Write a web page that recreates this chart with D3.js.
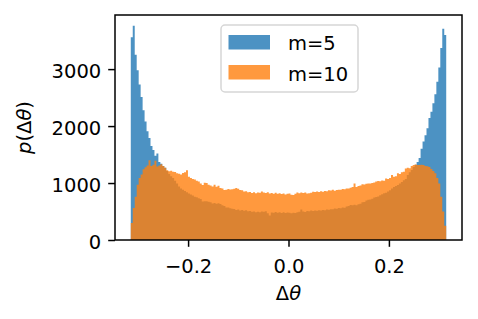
<!DOCTYPE html>
<html>
<head>
<meta charset="utf-8">
<script src="https://cdn.jsdelivr.net/npm/d3@7"></script>
<style>
  body { margin: 0; background: #fff; }
  text { font-family: "DejaVu Sans", sans-serif; }
</style>
</head>
<body>
<div id="chart"></div>
<script>
// histogram range and bin heights
var binRange = [-0.31416, 0.31416];

var m5 = [
  3560, 3760, 3250, 2980, 2730, 2510, 2280, 2080, 1910, 1790,
  1650, 1580, 1480, 1520, 1370, 1340, 1300, 1270, 1210, 1160,
  1120, 1090, 1040, 990, 940, 905, 880, 860, 840, 815,
  800, 780, 760, 750, 735, 720, 675, 680, 680, 670,
  662, 640, 648, 636, 645, 630, 612, 596, 570, 572,
  556, 548, 544, 528, 534, 520, 526, 512, 522, 504,
  508, 494, 500, 488, 495, 486, 500, 494, 506, 468,
  432, 484, 480, 490, 478, 488, 476, 485, 472, 482,
  478, 468, 480, 472, 486, 498, 536, 502, 490, 508,
  506, 518, 508, 520, 512, 524, 516, 528, 522, 534,
  530, 542, 538, 552, 548, 560, 556, 570, 568, 588,
  596, 616, 610, 618, 612, 628, 636, 664, 668, 694,
  705, 713, 725, 745, 755, 765, 785, 805, 819, 830,
  850, 875, 905, 930, 950, 965, 990, 1020, 1050, 1070,
  1140, 1190, 1230, 1280, 1320, 1370, 1440, 1600, 1730, 1840,
  1960, 2140, 2250, 2400, 2560, 2780, 3030, 3370, 3710, 3600
];

var m10 = [
  300, 560, 760, 970, 1090, 1150, 1240, 1275, 1310, 1400,
  1300, 1320, 1390, 1290, 1310, 1330, 1300, 1270, 1225, 1205,
  1215, 1200, 1195, 1170, 1165, 1150, 1175, 1190, 1225, 1110,
  1090, 1070, 1060, 1040, 1025, 990, 965, 1005, 1000, 970,
  958, 940, 968, 936, 952, 915, 905, 878, 884, 896,
  886, 892, 898, 912, 900, 876, 874, 850, 856, 838,
  842, 826, 840, 820, 836, 828, 850, 836, 824, 840,
  818, 824, 812, 828, 810, 822, 806, 816, 800, 812,
  818, 796, 788, 810, 834, 820, 832, 826, 836, 818,
  822, 828, 846, 842, 852, 844, 856, 846, 862, 856,
  874, 868, 880, 866, 878, 884, 880, 894, 890, 904,
  902, 916, 930, 992, 930, 950, 956, 978, 976, 986,
  990, 994, 1000, 1010, 1025, 1035, 1030, 1045, 1040, 1080,
  1070, 1090, 1140, 1110, 1120, 1170, 1160, 1190, 1200, 1257,
  1270, 1260, 1300, 1316, 1325, 1318, 1316, 1322, 1316, 1300,
  1295, 1280, 1245, 1210, 1170, 1090, 990, 760, 500, 250
];

var seriesNames = ["m=5", "m=10"];
var xTicks = [-0.2, 0.0, 0.2];
var xTickLabels = ["\u22120.2", "0.0", "0.2"];
var yTicks = [0, 1000, 2000, 3000];

var W = 478, H = 319;
var margin = {top: 15, right: 16, bottom: 79, left: 115},
    width = W - margin.left - margin.right,
    height = H - margin.top - margin.bottom;

var svg = d3.select("#chart")
    .append("svg")
    .attr("width", W)
    .attr("height", H)
    .append("g")
    .attr("transform", "translate(" + margin.left + "," + margin.top + ")");

var x = d3.scaleLinear()
    .domain([-0.3456, 0.3456])
    .range([0, width]);

var y = d3.scaleLinear()
    .domain([0, 3950])
    .range([height, 0]);

function drawHist(values, color) {
    var n = values.length;
    var step = (binRange[1] - binRange[0]) / n;
    var pts = values.map(function (v, i) { return [binRange[0] + i * step, v]; });
    pts.push([binRange[1], values[n - 1]]);

    svg.append("path")
        .datum(pts)
        .attr("fill", color)
        .attr("fill-opacity", 0.8)
        .attr("d", d3.area()
            .curve(d3.curveStepAfter)
            .x(function (d) { return x(d[0]); })
            .y0(y(0))
            .y1(function (d) { return y(d[1]); })
        );
}

drawHist(m5, "#1f77b4");
drawHist(m10, "#ff7f0e");

// axes
var x_axis = d3.axisBottom(x)
    .tickValues(xTicks)
    .tickFormat(function (d, i) { return xTickLabels[i]; })
    .tickSize(6.8)
    .tickSizeOuter(0)
    .tickPadding(12);

var gx = svg.append("g")
    .attr("transform", "translate(0," + height + ")")
    .call(x_axis);

var y_axis = d3.axisLeft(y)
    .tickValues(yTicks)
    .tickFormat(d3.format("d"))
    .tickSize(6.8)
    .tickSizeOuter(0)
    .tickPadding(7);

var gy = svg.append("g")
    .call(y_axis);

[gx, gy].forEach(function (g) {
    g.select(".domain").remove();
    g.selectAll(".tick line").attr("stroke", "#000").attr("stroke-width", 1.5);
    g.selectAll(".tick text")
        .attr("fill", "#000")
        .style("font-family", "'DejaVu Sans', sans-serif")
        .style("font-size", "19.5px");
});
gy.selectAll(".tick text").attr("dy", "0.42em");

// frame
svg.append("rect")
    .attr("x", 0)
    .attr("y", 0)
    .attr("width", width)
    .attr("height", height)
    .attr("fill", "none")
    .attr("stroke", "#000")
    .attr("stroke-width", 1.5);

// axis labels
svg.append("text")
    .attr("x", width / 2)
    .attr("y", height + 60)
    .attr("text-anchor", "middle")
    .style("font-size", "19.5px")
    .text("\u0394")
    .append("tspan")
    .attr("font-style", "italic")
    .text("\u03b8");

var yl = svg.append("text")
    .attr("transform", "translate(" + (31 - margin.left) + "," + (height / 2) + ") rotate(-90)")
    .attr("text-anchor", "middle")
    .style("font-size", "19.5px");
yl.append("tspan").attr("font-style", "italic").text("p");
yl.append("tspan").text("(\u0394");
yl.append("tspan").attr("font-style", "italic").text("\u03b8");
yl.append("tspan").text(")");

// legend
var lg = svg.append("g")
    .attr("transform", "translate(" + (221 - margin.left) + "," + (25 - margin.top) + ")");

lg.append("rect")
    .attr("width", 137)
    .attr("height", 67)
    .attr("rx", 4)
    .attr("fill", "#fff")
    .attr("fill-opacity", 0.8)
    .attr("stroke", "#d6d6d6")
    .attr("stroke-width", 1.5);

var legendColors = ["#1f77b4", "#ff7f0e"];
seriesNames.forEach(function (name, i) {
    lg.append("rect")
        .attr("x", 7.5)
        .attr("y", 10 + i * 30)
        .attr("width", 41.5)
        .attr("height", 14.5)
        .attr("fill", legendColors[i])
        .attr("fill-opacity", 0.8);
    lg.append("text")
        .attr("x", 67)
        .attr("y", 25 + i * 30.5)
        .attr("fill", "#000")
        .style("font-size", "19.5px")
        .text(name);
});
</script>
</body>
</html>
